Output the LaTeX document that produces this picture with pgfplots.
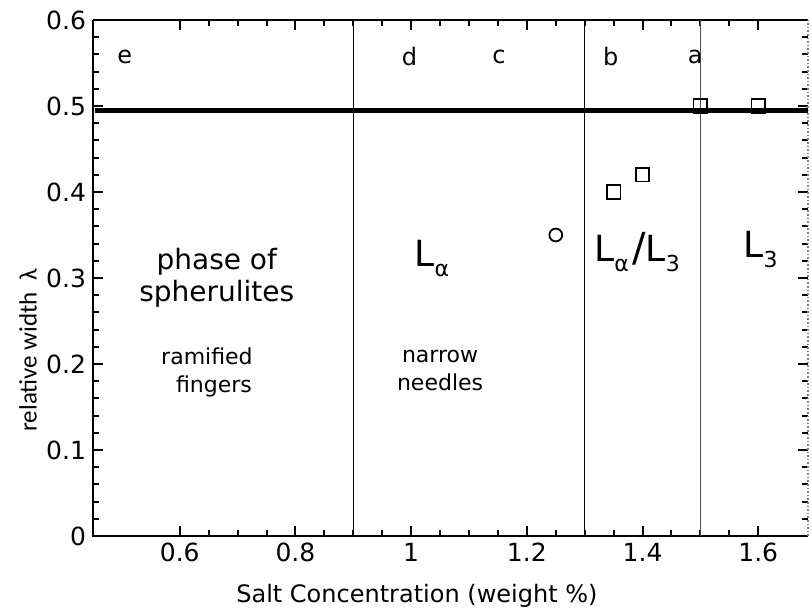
\documentclass[border=0pt]{standalone}
\usepackage{fontspec}
\setmainfont{DejaVu Sans}
\newfontfamily\ylabfont{Carlito}
\usepackage{pgfplots}
\pgfplotsset{compat=1.18}
\newcommand{\Lsub}[1]{{\fontsize{18}{20}\selectfont L}\raisebox{-5pt}{\fontsize{11}{12}\selectfont #1}}
\begin{document}
\begin{tikzpicture}
\begin{axis}[name=ax, scale only axis, width=357.5pt, height=258pt,
  xmin=0.45, xmax=1.686, ymin=0, ymax=0.6,
  xtick={0.6,0.8,1,1.2,1.4,1.6}, minor x tick num=3,
  ytick={0,0.1,0.2,0.3,0.4,0.5,0.6}, minor y tick num=4,
  xticklabels={0.6,0.8,1,1.2,1.4,1.6},
  yticklabels={0,0.1,0.2,0.3,0.4,0.5,0.6},
  tick align=inside, major tick length=5pt, minor tick length=3pt,
  every tick/.style={black, line width=1pt},
  tick label style={font=\fontsize{12.5}{14}\selectfont},
  /pgf/number format/assume math mode=true,
  xlabel={Salt Concentration (weight \%)},
  ylabel={relative width\ \ λ},
  every axis x label/.style={at={(rel axis cs:0.453,0)}, anchor=center, yshift=-30pt, font=\fontsize{12}{14}\selectfont},
  every axis y label/.style={at={(rel axis cs:0,0.36)}, xshift=-32.5pt, anchor=center, rotate=90, font=\ylabfont\fontsize{12.5}{14}\selectfont},
  axis line style={draw=none},
  clip=false,
]
\draw[line width=1.4pt] (rel axis cs:0,1) -- (rel axis cs:0,0) -- (rel axis cs:1,0);
\draw[line width=1.4pt] (rel axis cs:0,1) -- (rel axis cs:1,1);
\draw[densely dotted, gray, line width=0.8pt] (rel axis cs:1,0) -- (rel axis cs:1,1);
\addplot[black, line width=0.7pt] coordinates {(0.9,0) (0.9,0.6)};
\addplot[black, line width=0.7pt] coordinates {(1.3,0) (1.3,0.6)};
\addplot[black!70, line width=0.8pt] coordinates {(1.5,0) (1.5,0.6)};
\addplot[black, line width=2.2pt] coordinates {(0.453,0.495) (1.686,0.495)};
\addplot[only marks, mark=square, mark size=3.4pt, line width=0.9pt, black] coordinates {(1.35,0.40) (1.40,0.42) (1.50,0.50) (1.60,0.50)};
\addplot[only marks, mark=o, mark size=3.2pt, line width=0.9pt, black] coordinates {(1.25,0.35)};
\begin{scope}[font=\fontsize{12}{14}\selectfont]
\node at (axis cs:0.505,0.557) {e};
\node at (axis cs:0.997,0.557) {d};
\node at (axis cs:1.152,0.557) {c};
\node at (axis cs:1.345,0.557) {b};
\node at (axis cs:1.491,0.557) {a};
\end{scope}
\node[align=center, font=\fontsize{14}{16}\selectfont] at (axis cs:0.664,0.30) {phase of\\spherulites};
\node[align=center, font=\fontsize{11}{14}\selectfont] at (axis cs:0.647,0.19) {ramified\\\ \ fingers};
\node[align=center, font=\fontsize{11}{14}\selectfont] at (axis cs:1.05,0.193) {narrow\\needles};
\node[anchor=base west, inner sep=0pt] at (axis cs:1.005,0.313) {\Lsub{α}};
\node[anchor=base west, inner sep=0pt] at (axis cs:1.316,0.319) {\Lsub{α}\,{\fontsize{20}{22}\selectfont /}\Lsub{3}};
\node[anchor=base west, inner sep=0pt] at (axis cs:1.574,0.324) {\Lsub{3}};
\end{axis}
\pgfresetboundingbox
\path[use as bounding box] ([xshift=-46.5pt,yshift=-37pt]ax.south west) rectangle ([xshift=1.5pt,yshift=10pt]ax.north east);
\end{tikzpicture}
\end{document}
